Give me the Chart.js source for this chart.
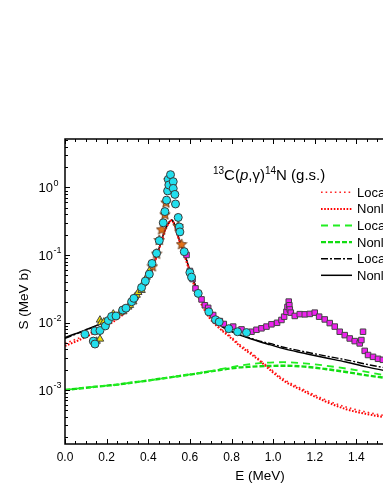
<!DOCTYPE html>
<html>
<head>
<meta charset="utf-8">
<script src="https://cdn.jsdelivr.net/npm/chart.js@4.4.1/dist/chart.umd.min.js"></script>
<style>
  html, body { margin: 0; padding: 0; background: #fff; overflow: hidden; }
  #wrap { width: 420px; height: 495px; }
</style>
</head>
<body>
<div id="wrap"><canvas id="sfactor"></canvas></div>
<script>
// energy grid shared by the six model curves (MeV)
var curveE = [0, 0.05, 0.1, 0.15, 0.2, 0.25, 0.3, 0.35, 0.4, 0.42, 0.44, 0.46, 0.48, 0.5, 0.512, 0.525,
    0.544, 0.568, 0.584, 0.616, 0.648, 0.696, 0.744, 0.792, 0.84, 0.888, 0.936, 0.984, 1.05, 1.15, 1.25,
    1.35, 1.45, 1.55, 1.6];

var redLocal = [4.9e-3, 5.6e-3, 6.5e-3, 7.7e-3, 9.3e-3, 0.0116, 0.0153, 0.0232, 0.0435, 0.0615, 0.095, 0.147,
    0.231, 0.301, 0.326, 0.286, 0.183, 0.114, 0.080, 0.040, 0.0215, 0.0118, 0.0083, 0.0064, 0.0047, 0.0037,
    0.0028, 0.0021, 0.00145, 0.00100, 0.00072, 0.00056, 0.00047, 0.00041, 0.00039];
var redNonlocal = [4.5e-3, 5.2e-3, 6.1e-3, 7.3e-3, 8.9e-3, 0.0112, 0.0149, 0.0228, 0.043, 0.061, 0.094, 0.146,
    0.230, 0.300, 0.325, 0.285, 0.182, 0.113, 0.079, 0.039, 0.021, 0.0115, 0.0081, 0.0061, 0.0045, 0.0035,
    0.0027, 0.0020, 0.00138, 0.00095, 0.00068, 0.00052, 0.00044, 0.00039, 0.00037];
var greenLocal = [1.0e-3, 1.04e-3, 1.08e-3, 1.12e-3, 1.16e-3, 1.2e-3, 1.26e-3, 1.32e-3, 1.38e-3, 1.41e-3, 1.44e-3,
    1.47e-3, 1.5e-3, 1.53e-3, 1.55e-3, 1.57e-3, 1.6e-3, 1.64e-3, 1.67e-3, 1.73e-3, 1.79e-3, 1.9e-3, 2.03e-3,
    2.15e-3, 2.3e-3, 2.42e-3, 2.5e-3, 2.55e-3, 2.58e-3, 2.48e-3, 2.3e-3, 2.08e-3, 1.85e-3, 1.62e-3, 1.52e-3];
var greenNonlocal = [1.0e-3, 1.04e-3, 1.08e-3, 1.12e-3, 1.16e-3, 1.2e-3, 1.26e-3, 1.32e-3, 1.38e-3, 1.41e-3, 1.44e-3,
    1.47e-3, 1.5e-3, 1.53e-3, 1.55e-3, 1.57e-3, 1.6e-3, 1.64e-3, 1.67e-3, 1.72e-3, 1.78e-3, 1.88e-3, 1.98e-3,
    2.08e-3, 2.16e-3, 2.21e-3, 2.25e-3, 2.27e-3, 2.29e-3, 2.22e-3, 2.05e-3, 1.85e-3, 1.65e-3, 1.5e-3, 1.44e-3];
var blackLocal = [5.8e-3, 6.7e-3, 7.7e-3, 8.9e-3, 0.0106, 0.0129, 0.0167, 0.0249, 0.046, 0.064, 0.098, 0.150,
    0.235, 0.305, 0.330, 0.290, 0.187, 0.118, 0.084, 0.043, 0.024, 0.0137, 0.0093, 0.0076, 0.0066, 0.0059,
    0.0053, 0.0049, 0.0043, 0.0037, 0.0032, 0.0028, 0.0024, 0.0021, 0.0020];
var blackNonlocal = [6.0e-3, 6.8e-3, 7.8e-3, 9.0e-3, 0.0107, 0.0130, 0.0168, 0.025, 0.046, 0.064, 0.098, 0.150,
    0.235, 0.305, 0.330, 0.290, 0.187, 0.118, 0.084, 0.043, 0.024, 0.0137, 0.0092, 0.0075, 0.0065, 0.0058,
    0.0052, 0.0047, 0.0041, 0.0035, 0.0030, 0.0026, 0.0022, 0.0019, 0.0018];

// measured points
var circleE = [0.096, 0.136, 0.144, 0.144, 0.168, 0.194, 0.208, 0.224, 0.245, 0.277, 0.293, 0.320, 0.331, 0.368,
    0.386, 0.405, 0.418, 0.440, 0.453, 0.472, 0.480, 0.488, 0.493, 0.496, 0.499, 0.507, 0.520, 0.520, 0.528,
    0.531, 0.544, 0.549, 0.552, 0.573, 0.600, 0.608, 0.640, 0.691, 0.723, 0.741, 0.787, 0.829, 0.872];
var circleS = [6.7e-3, 5.3e-3, 4.8e-3, 7.5e-3, 7.6e-3, 8.9e-3, 0.0107, 0.0123, 0.0125, 0.0153, 0.0163, 0.0203,
    0.0228, 0.033, 0.041, 0.052, 0.075, 0.106, 0.163, 0.30, 0.44, 0.65, 0.89, 1.32, 1.09, 1.55, 1.22, 0.97, 0.79,
    0.57, 0.36, 0.26, 0.22, 0.112, 0.055, 0.047, 0.027, 0.0144, 0.0110, 0.0102, 0.0081, 0.0073, 0.0071];
var triangleE = [0.152, 0.168, 0.168, 0.173, 0.187, 0.232, 0.264, 0.280, 0.304, 0.312, 0.328, 0.336, 0.344,
    0.352, 0.368, 0.376, 0.392, 0.405];
var triangleS = [5.3e-3, 5.7e-3, 0.0109, 0.0100, 0.0102, 0.0134, 0.0139, 0.0145, 0.0170, 0.0180, 0.0203, 0.0240,
    0.0255, 0.0280, 0.0300, 0.038, 0.047, 0.058];
var starE = [0.420, 0.440, 0.453, 0.464, 0.480, 0.485, 0.499, 0.544, 0.560];
var starS = [0.068, 0.105, 0.167, 0.24, 0.40, 0.60, 1.29, 0.27, 0.145];
var squareE = [0.584, 0.600, 0.613, 0.627, 0.656, 0.672, 0.688, 0.712, 0.744, 0.763, 0.808, 0.848, 0.896, 0.920,
    0.944, 0.968, 0.992, 1.019, 1.040, 1.053, 1.064, 1.069, 1.075, 1.078, 1.080, 1.085, 1.104, 1.128, 1.152,
    1.176, 1.200, 1.221, 1.248, 1.272, 1.296, 1.320, 1.344, 1.368, 1.392, 1.416, 1.424, 1.432, 1.440, 1.456,
    1.480, 1.504, 1.527, 1.550];
var squareS = [0.10, 0.058, 0.044, 0.032, 0.022, 0.018, 0.0165, 0.0129, 0.0105, 0.0095, 0.0087, 0.0079, 0.0073,
    0.0078, 0.0082, 0.0087, 0.0094, 0.0099, 0.0109, 0.0122, 0.0144, 0.0170, 0.0204, 0.0180, 0.0156, 0.0140,
    0.0125, 0.0133, 0.0132, 0.0134, 0.0140, 0.0122, 0.0111, 0.0098, 0.0087, 0.0073, 0.0065, 0.0058, 0.0053,
    0.0049, 0.0055, 0.0073, 0.0038, 0.0033, 0.0031, 0.0029, 0.0028, 0.0027];

var xTickLabels = ['0.0', '0.2', '0.4', '0.6', '0.8', '1.0', '1.2', '1.4', '1.6'];
var yTickExponents = ['0', '-1', '-2', '-3'];
var legendLabels = ['Local', 'Nonlocal', 'Local', 'Nonlocal', 'Local', 'Nonlocal'];

var FONT = '"Liberation Sans", Arial, sans-serif';

function pairs(xs, ys) {
    return xs.map(function(x, i) { return { x: x, y: ys[i] }; });
}

function makeStar() {
    var c = document.createElement('canvas');
    c.width = 12; c.height = 12;
    var g = c.getContext('2d');
    g.beginPath();
    for (var i = 0; i < 10; i++) {
        var r = (i % 2 === 0) ? 5.5 : 2.5;
        var a = -Math.PI / 2 + i * Math.PI / 5;
        var px = 6 + r * Math.cos(a), py = 6.4 + r * Math.sin(a);
        if (i === 0) g.moveTo(px, py); else g.lineTo(px, py);
    }
    g.closePath();
    g.fillStyle = '#e0701a';
    g.fill();
    g.strokeStyle = '#5a3010';
    g.lineWidth = 0.8;
    g.stroke();
    return c;
}

function curve(label, ys, color, dash, width) {
    return {
        type: 'scatter', label: label, data: pairs(curveE, ys), showLine: true,
        borderColor: color, backgroundColor: color, borderWidth: width, borderDash: dash,
        pointRadius: 0, cubicInterpolationMode: 'monotone', order: 10
    };
}

var curves = [
    curve('Local', redLocal, '#ff2020', [1.6, 3], 1.6),
    curve('Nonlocal', redNonlocal, '#ff0000', [1.6, 1.6], 2),
    curve('Local', greenLocal, '#22ee22', [7, 5], 1.8),
    curve('Nonlocal', greenNonlocal, '#11dd11', [5, 2], 2.4),
    curve('Local', blackLocal, '#000000', [7, 2, 2, 2], 1.4),
    curve('Nonlocal', blackNonlocal, '#000000', [], 1.5)
];

var points = [
    { label: 'sq', data: pairs(squareE, squareS), pointStyle: 'rect', pointRadius: 3.9,
      backgroundColor: '#ee22ee', borderColor: '#444', borderWidth: 1, order: 4 },
    { label: 'star', data: pairs(starE, starS), pointStyle: makeStar(), pointRadius: 5, order: 3 },
    { label: 'tri', data: pairs(triangleE, triangleS), pointStyle: 'triangle', pointRadius: 4.3,
      backgroundColor: '#f2e200', borderColor: '#444', borderWidth: 1, order: 2 },
    { label: 'circ', data: pairs(circleE, circleS), pointStyle: 'circle', pointRadius: 4,
      backgroundColor: '#22dfee', borderColor: '#3a3a3a', borderWidth: 1, order: 1 }
];

var framePlugin = {
    id: 'framePlugin',
    afterDraw: function(chart) {
        var ctx = chart.ctx, a = chart.chartArea;
        var xs = chart.scales.x, ys = chart.scales.y;
        ctx.save();
        ctx.strokeStyle = '#000';
        ctx.lineWidth = 1.5;
        ctx.beginPath();
        ctx.moveTo(a.right + 5, a.top); ctx.lineTo(a.left, a.top);
        ctx.lineTo(a.left, a.bottom); ctx.lineTo(a.right + 5, a.bottom);
        ctx.stroke();

        ctx.lineWidth = 1;
        ctx.beginPath();
        for (var i = 0; i <= 32; i++) {
            var px = Math.round(xs.getPixelForValue(i * 0.05)) + 0.5;
            var len = (i % 4 === 0) ? 5 : 3;
            ctx.moveTo(px, a.bottom); ctx.lineTo(px, a.bottom - len);
            ctx.moveTo(px, a.top); ctx.lineTo(px, a.top + len);
        }
        for (var d = -4; d <= 0; d++) {
            for (var m = 1; m <= 9; m++) {
                var v = m * Math.pow(10, d);
                if (v < ys.min || v > ys.max) continue;
                var py = Math.round(ys.getPixelForValue(v)) + 0.5;
                var l = (m === 1) ? 5 : 3;
                ctx.moveTo(a.left, py); ctx.lineTo(a.left + l, py);
            }
        }
        ctx.stroke();

        // tick labels
        ctx.fillStyle = '#000';
        ctx.font = '12px ' + FONT;
        ctx.textAlign = 'center';
        ctx.textBaseline = 'middle';
        xTickLabels.forEach(function(t, i) {
            ctx.fillText(t, xs.getPixelForValue(i * 0.2), a.bottom + 14);
        });
        yTickExponents.forEach(function(e) {
            var py = ys.getPixelForValue(Math.pow(10, Number(e)));
            ctx.font = '13px ' + FONT;
            ctx.textAlign = 'right';
            ctx.fillText('10', 53, py + 1);
            ctx.font = '9px ' + FONT;
            ctx.textAlign = 'left';
            ctx.fillText(e, 53.5, py - 4);
        });

        // axis titles
        ctx.font = '13.5px ' + FONT;
        ctx.textAlign = 'center';
        ctx.fillText('E (MeV)', 260, 476);
        ctx.save();
        ctx.translate(24, 299);
        ctx.rotate(-Math.PI / 2);
        ctx.fillText('S (MeV b)', 0, 0);
        ctx.restore();

        // reaction label
        var x = 213, base = 180;
        ctx.textAlign = 'left';
        ctx.textBaseline = 'alphabetic';
        var parts = [['13', 'sup'], ['C(', 'n'], ['p', 'i'], [',\u03b3)', 'n'], ['14', 'sup'], ['N (g.s.)', 'n']];
        parts.forEach(function(p) {
            if (p[1] === 'sup') ctx.font = '10px ' + FONT;
            else if (p[1] === 'i') ctx.font = 'italic 15px ' + FONT;
            else ctx.font = '15px ' + FONT;
            ctx.fillText(p[0], x, p[1] === 'sup' ? base - 6 : base);
            x += ctx.measureText(p[0]).width;
        });

        // legend
        ctx.font = '13px ' + FONT;
        ctx.textBaseline = 'middle';
        legendLabels.forEach(function(lab, i) {
            var ds = chart.data.datasets[i];
            var ly = 192.3 + i * 16.6;
            ctx.save();
            ctx.strokeStyle = ds.borderColor;
            ctx.lineWidth = ds.borderWidth;
            ctx.setLineDash(ds.borderDash);
            ctx.beginPath();
            ctx.moveTo(321, ly); ctx.lineTo(352, ly);
            ctx.stroke();
            ctx.restore();
            ctx.fillText(lab, 357, ly + 1);
        });
        ctx.restore();
    }
};

new Chart(document.getElementById('sfactor').getContext('2d'), {
    type: 'scatter',
    data: { datasets: curves.concat(points) },
    options: {
        responsive: true,
        maintainAspectRatio: false,
        animation: false,
        devicePixelRatio: 1,
        layout: { padding: { left: 65, top: 139, right: 22, bottom: 51 } },
        plugins: { legend: { display: false }, tooltip: { enabled: false } },
        scales: {
            x: { type: 'linear', min: 0, max: 1.6, display: false },
            y: { type: 'logarithmic', min: 1.585e-4, max: 5.23, display: false }
        }
    },
    plugins: [framePlugin]
});
</script>
</body>
</html>
